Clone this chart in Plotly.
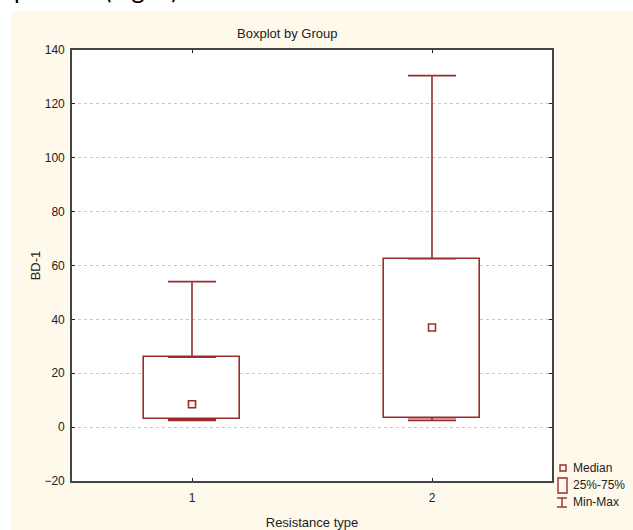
import plotly.graph_objects as go

# ---- data ----
groups = [1, 2]
group_labels = ["1", "2"]
mins = [2.5, 2.5]
q1s = [3.0, 3.5]
medians = [8.5, 37.0]
q3s = [26.0, 62.5]
maxs = [54.0, 130.5]
y_ticks = [-20, 0, 20, 40, 60, 80, 100, 120, 140]

RED = "#9b2c2c"
CREAM = "#fff9ec"
FONT = "Liberation Sans, Arial, sans-serif"
NARROW = "Liberation Sans Narrow, Arial Narrow, Liberation Sans, sans-serif"

W, H = 633, 530
L, R, T, B = 72, 81, 50, 49
PW, PH = W - L - R, H - T - B

def px(x):
    return (x - L) / PW

def py(y):
    return (H - B - y) / PH

fig = go.Figure()

# boxes (25%-75%)
fig.add_trace(go.Bar(
    x=groups, base=q1s, y=[b - a for a, b in zip(q1s, q3s)], width=0.4,
    marker=dict(color="white", line=dict(color=RED, width=1.6)),
    showlegend=False, hoverinfo="skip"))

# upper whiskers
fig.add_trace(go.Scatter(
    x=groups, y=q3s, mode="markers", marker=dict(size=0.1, color=RED, opacity=0),
    error_y=dict(type="data", symmetric=False,
                 array=[m - q for q, m in zip(q3s, maxs)], arrayminus=[0, 0],
                 color=RED, thickness=1.6, width=24),
    showlegend=False, hoverinfo="skip"))

# lower whiskers
fig.add_trace(go.Scatter(
    x=groups, y=q1s, mode="markers", marker=dict(size=0.1, color=RED, opacity=0),
    error_y=dict(type="data", symmetric=False,
                 array=[0, 0], arrayminus=[q - m for q, m in zip(q1s, mins)],
                 color=RED, thickness=1.6, width=24),
    showlegend=False, hoverinfo="skip"))

# medians
fig.add_trace(go.Scatter(
    x=groups, y=medians, mode="markers",
    marker=dict(symbol="square-open", size=7, color=RED, line=dict(width=1.6, color=RED)),
    showlegend=False, hoverinfo="skip"))

shapes = []
annotations = []

# white page strips (top and left) + clipped caption text from the document
shapes.append(dict(type="rect", xref="paper", yref="paper",
                   x0=px(-5), x1=px(W + 5), y0=py(11), y1=py(-5),
                   fillcolor="white", line=dict(width=0), layer="above"))
shapes.append(dict(type="rect", xref="paper", yref="paper",
                   x0=px(-5), x1=px(11), y0=py(H + 5), y1=py(-5),
                   fillcolor="white", line=dict(width=0), layer="above"))
annotations.append(dict(text="p &lt;0.05 (Fig. 1)", xref="paper", yref="paper",
                        x=px(12), y=py(6), xanchor="left", yanchor="bottom",
                        showarrow=False, font=dict(family="Lato, Open Sans, sans-serif", size=25, color="black")))

# chart title
annotations.append(dict(text="Boxplot by Group", xref="paper", yref="paper",
                        x=px(287), y=py(33), xanchor="center", yanchor="middle",
                        showarrow=False, font=dict(family=NARROW, size=13, color="#222")))

# legend (custom, Statistica style)
shapes.append(dict(type="rect", xref="paper", yref="paper",
                   x0=px(560), x1=px(566), y0=py(471), y1=py(465),
                   line=dict(color=RED, width=1.4), fillcolor="rgba(0,0,0,0)"))
shapes.append(dict(type="rect", xref="paper", yref="paper",
                   x0=px(558), x1=px(567), y0=py(493), y1=py(478),
                   line=dict(color=RED, width=1.4), fillcolor="rgba(0,0,0,0)"))
shapes.append(dict(type="line", xref="paper", yref="paper",
                   x0=px(562), x1=px(562), y0=py(507), y1=py(498),
                   line=dict(color=RED, width=1.4)))
shapes.append(dict(type="line", xref="paper", yref="paper",
                   x0=px(557), x1=px(567), y0=py(498), y1=py(498),
                   line=dict(color=RED, width=1.4)))
shapes.append(dict(type="line", xref="paper", yref="paper",
                   x0=px(557), x1=px(567), y0=py(507), y1=py(507),
                   line=dict(color=RED, width=1.4)))
for txt, yy in [("Median", 468), ("25%-75%", 485), ("Min-Max", 502)]:
    annotations.append(dict(text=txt, xref="paper", yref="paper",
                            x=px(571), y=py(yy), xanchor="left", yanchor="middle",
                            showarrow=False, font=dict(family=NARROW, size=12, color="#222")))

fig.update_layout(
    width=W, height=H,
    margin=dict(l=L, r=R, t=T, b=B, pad=0, autoexpand=False),
    paper_bgcolor=CREAM, plot_bgcolor="white",
    font=dict(family=FONT, size=12, color="#222"),
    shapes=shapes, annotations=annotations,
    bargap=0,
)
fig.update_xaxes(
    range=[0.5, 2.5], tickvals=groups, ticktext=group_labels,
    showgrid=False, zeroline=False, automargin=False,
    showline=True, linecolor="#444", linewidth=1.6, mirror="ticks",
    ticks="inside", ticklen=3, tickcolor="#222", ticklabelstandoff=5,
    title=dict(text="Resistance type", font=dict(family=NARROW, size=13), standoff=14),
    tickfont=dict(family=FONT, size=12),
)
fig.update_yaxes(
    range=[-20, 140], tickvals=y_ticks,
    showgrid=True, gridcolor="#c8c8c8", griddash="dot", gridwidth=1, zeroline=False,
    automargin=False,
    showline=True, linecolor="#444", linewidth=1.6, mirror="ticks",
    ticks="inside", ticklen=3, tickcolor="#222", ticklabelstandoff=3,
    title=dict(text="BD-1", font=dict(family=NARROW, size=13), standoff=1),
    tickfont=dict(family=FONT, size=12),
)

fig.write_html("out.html", config={"displayModeBar": False},
               post_script="document.body.style.margin='0';document.body.style.overflow='hidden';")
